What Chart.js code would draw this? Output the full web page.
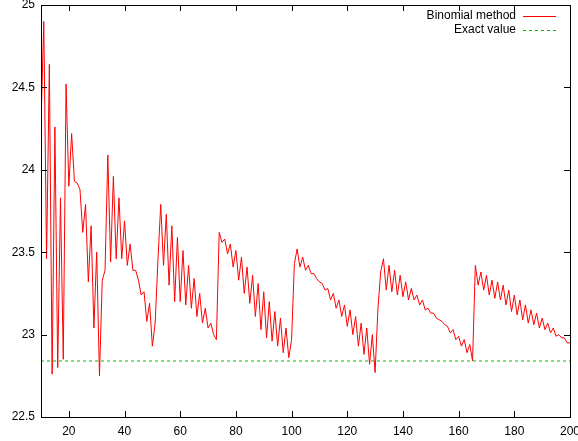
<!DOCTYPE html>
<html>
<head>
<meta charset="utf-8">
<script src="https://cdn.jsdelivr.net/npm/chart.js@4/dist/chart.umd.min.js"></script>
<style>
  html, body { margin: 0; padding: 0; background: #fff; overflow: hidden; }
  canvas { display: block; }
</style>
</head>
<body>
<canvas id="priceChart" width="578" height="441"></canvas>
<script>
// Number of time steps
const steps = [
  10, 11, 12, 13, 14, 15, 16, 17, 18, 19, 20, 21, 22, 23, 24, 25, 26, 27, 28, 29,
  30, 31, 32, 33, 34, 35, 36, 37, 38, 39, 40, 41, 42, 43, 44, 45, 46, 47, 48, 49,
  50, 51, 52, 53, 54, 55, 56, 57, 58, 59, 60, 61, 62, 63, 64, 65, 66, 67, 68, 69,
  70, 71, 72, 73, 74, 75, 76, 77, 78, 79, 80, 81, 82, 83, 84, 85, 86, 87, 88, 89,
  90, 91, 92, 93, 94, 95, 96, 97, 98, 99, 100, 101, 102, 103, 104, 105, 106, 107, 108, 109,
  110, 111, 112, 113, 114, 115, 116, 117, 118, 119, 120, 121, 122, 123, 124, 125, 126, 127, 128, 129,
  130, 131, 132, 133, 134, 135, 136, 137, 138, 139, 140, 141, 142, 143, 144, 145, 146, 147, 148, 149,
  150, 151, 152, 153, 154, 155, 156, 157, 158, 159, 160, 161, 162, 163, 164, 165, 166, 167, 168, 169,
  170, 171, 172, 173, 174, 175, 176, 177, 178, 179, 180, 181, 182, 183, 184, 185, 186, 187, 188, 189,
  190, 191, 192, 193, 194, 195, 196, 197, 198, 199, 200
];

// Binomial method price for each step count
const binomialPrices = [
  24.28, 24.90, 23.46, 24.64, 22.76, 24.26, 22.80, 23.83, 22.85, 24.52,
  23.90, 24.22, 23.93, 23.92, 23.88, 23.62, 23.79, 23.32, 23.66, 23.04,
  23.50, 22.75, 23.33, 23.39, 24.09, 23.44, 23.96, 23.46, 23.83, 23.46,
  23.69, 23.42, 23.55, 23.39, 23.39, 23.33, 23.24, 23.26, 23.08, 23.19,
  22.93, 23.07, 23.45, 23.79, 23.42, 23.73, 23.30, 23.66, 23.20, 23.59,
  23.20, 23.51, 23.18, 23.42, 23.16, 23.34, 23.11, 23.25, 23.07, 23.16,
  23.04, 23.07, 23.00, 22.97, 23.62, 23.56, 23.58, 23.49, 23.55, 23.41,
  23.51, 23.33, 23.47, 23.25, 23.41, 23.19, 23.36, 23.11, 23.31, 23.03,
  23.26, 22.98, 23.20, 22.96, 23.14, 22.93, 23.10, 22.89, 23.04, 22.86,
  22.97, 23.43, 23.52, 23.41, 23.47, 23.39, 23.42, 23.37, 23.37, 23.34,
  23.32, 23.31, 23.27, 23.28, 23.21, 23.25, 23.16, 23.21, 23.11, 23.18,
  23.05, 23.15, 23.00, 23.11, 22.93, 23.07, 22.88, 23.04, 22.82, 23.00,
  22.77, 23.15, 23.38, 23.46, 23.27, 23.42, 23.26, 23.39, 23.24, 23.36,
  23.23, 23.32, 23.21, 23.28, 23.21, 23.24, 23.18, 23.21, 23.15, 23.16,
  23.13, 23.13, 23.10, 23.09, 23.08, 23.06, 23.05, 23.01, 23.03, 22.97,
  22.99, 22.93, 22.97, 22.89, 22.94, 22.84, 23.42, 23.30, 23.38, 23.27,
  23.36, 23.24, 23.33, 23.22, 23.32, 23.21, 23.30, 23.18, 23.27, 23.14,
  23.24, 23.12, 23.21, 23.09, 23.18, 23.07, 23.15, 23.06, 23.13, 23.04,
  23.10, 23.03, 23.07, 23.01, 23.04, 22.99, 23.00, 22.98, 22.98, 22.95,
  22.95
];

// Exact (closed form) value
const exactValue = 22.84;

// Tick labels
const xTicks = [20, 40, 60, 80, 100, 120, 140, 160, 180, 200];
const yTicks = [22.5, 23, 23.5, 24, 24.5, 25];

const fontFamily = '"Liberation Sans", Arial, sans-serif';

// gnuplot style frame: box, inward ticks on all four sides, legend top right
const framePlugin = {
  id: 'frame',
  afterDraw(chart) {
    const c = chart.ctx;
    const a = chart.chartArea;
    const xs = chart.scales.x;
    const ys = chart.scales.y;
    const tick = 6;

    c.save();
    c.strokeStyle = '#000';
    c.lineWidth = 1;
    c.beginPath();
    xTicks.forEach(v => {
      const px = Math.round(xs.getPixelForValue(v)) + 0.5;
      c.moveTo(px, a.bottom); c.lineTo(px, a.bottom - tick);
      c.moveTo(px, a.top); c.lineTo(px, a.top + tick);
    });
    yTicks.forEach(v => {
      const py = Math.round(ys.getPixelForValue(v)) + 0.5;
      c.moveTo(a.left, py); c.lineTo(a.left + tick, py);
      c.moveTo(a.right, py); c.lineTo(a.right - tick, py);
    });
    c.stroke();
    c.strokeRect(a.left + 0.5, a.top + 0.5, a.right - a.left, a.bottom - a.top);

    // Legend: text first, sample line after it
    c.font = '12px ' + fontFamily;
    c.textAlign = 'right';
    c.textBaseline = 'middle';
    chart.data.datasets.forEach((ds, i) => {
      const y = 16 + i * 14;
      c.fillStyle = '#000';
      c.fillText(ds.label, 516, y);
      c.strokeStyle = ds.borderColor;
      c.setLineDash(ds.borderDash || []);
      c.beginPath();
      c.moveTo(523, y + 0.5);
      c.lineTo(556, y + 0.5);
      c.stroke();
    });
    c.restore();
  }
};

const ctx = document.getElementById('priceChart').getContext('2d');
const priceChart = new Chart(ctx, {
  type: 'line',
  data: {
    datasets: [
      {
        label: 'Binomial method',
        data: steps.map((n, i) => ({ x: n, y: binomialPrices[i] })),
        borderColor: '#ff0000',
        borderWidth: 1,
        pointRadius: 0,
        tension: 0
      },
      {
        label: 'Exact value',
        data: [{ x: steps[0], y: exactValue }, { x: steps[steps.length - 1], y: exactValue }],
        borderColor: '#00c000',
        borderWidth: 1,
        borderDash: [3, 3],
        pointRadius: 0
      }
    ]
  },
  options: {
    responsive: false,
    animation: false,
    layout: { padding: { left: 0, right: 8, top: 5, bottom: 0 } },
    plugins: { legend: { display: false }, tooltip: { enabled: false } },
    scales: {
      x: {
        type: 'linear',
        min: 10,
        max: 200,
        afterBuildTicks: s => { s.ticks = xTicks.map(v => ({ value: v })); },
        afterFit: s => { s.height = 24; s.paddingLeft = 0; s.paddingRight = 0; },
        grid: { display: false, drawTicks: false },
        border: { display: false },
        ticks: {
          color: '#000',
          padding: 7,
          maxRotation: 0,
          autoSkip: false,
          font: { family: fontFamily, size: 12 },
          callback: v => String(v)
        }
      },
      y: {
        type: 'linear',
        min: 22.5,
        max: 25,
        afterBuildTicks: s => { s.ticks = yTicks.map(v => ({ value: v })); },
        afterFit: s => { s.width = 41; s.paddingTop = 0; s.paddingBottom = 0; },
        grid: { display: false, drawTicks: false },
        border: { display: false },
        ticks: {
          color: '#000',
          padding: 6,
          autoSkip: false,
          font: { family: fontFamily, size: 12 },
          callback: v => String(v)
        }
      }
    }
  },
  plugins: [framePlugin]
});
</script>
</body>
</html>
